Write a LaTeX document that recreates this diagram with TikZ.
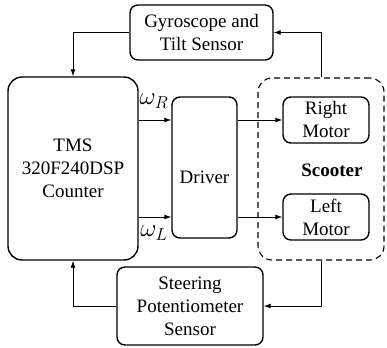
\documentclass[tikz,border=0pt]{standalone}
\usepackage{fontspec}
\setmainfont{LiberationSerif}[Extension=.ttf, UprightFont=*-Regular, BoldFont=*-Bold,
  ItalicFont=*-Italic, BoldItalicFont=*-BoldItalic]
\usetikzlibrary{arrows.meta}

\begin{document}
\begin{tikzpicture}[x=1pt, y=-1pt, >={Latex[length=7pt,width=5pt]}, line join=round,
  block/.style={draw, line width=1.4pt, rounded corners=8pt, align=center,
    font=\fontsize{19}{23}\selectfont},
  conn/.style={->, line width=0.9pt},
  signal/.style={font=\fontsize{25}{25}\selectfont}]

% ----------------------------
% FRAME
% ----------------------------
\useasboundingbox (0,0) rectangle (387,347);

% ----------------------------
% BLOCKS
% ----------------------------
\node[block, minimum width=143pt, minimum height=55pt] (gyro) at (201.5,32.5)
  {Gyroscope and\\Tilt Sensor};
\node[block, rounded corners=14pt, minimum width=130pt, minimum height=183pt] (tms) at (73,168.5)
  {TMS\\320F240DSP\\Counter};
\node[block, minimum width=65pt, minimum height=141pt, text height=32pt, text depth=0pt] (driver) at (204.5,167.5)
  {Driver};

% scooter group
\node[draw, dashed, line width=1.1pt, dash pattern=on 6pt off 4pt, rounded corners=14pt,
  minimum width=126pt, minimum height=182pt] (scooter) at (321,169) {};
\node[font=\fontsize{19}{23}\selectfont\bfseries] (scootername) at (332,170) {Scooter};
\node[block, minimum width=86pt, minimum height=46pt] (rmotor) at (326,120)
  {Right\\Motor};
\node[block, minimum width=86pt, minimum height=46pt] (lmotor) at (326,217)
  {Left\\Motor};

\node[block, minimum width=146pt, minimum height=78pt] (steer) at (190,306)
  {Steering\\Potentiometer\\Sensor};

% ----------------------------
% SIGNALS
% ----------------------------
\draw[conn] (tms.east |- rmotor) -- (driver.west |- rmotor);
\draw[conn] (tms.east |- lmotor) -- (driver.west |- lmotor);
\node[signal] (wr) at (154,101) {$\omega_R$};
\node[signal] (wl) at (154,233) {$\omega_L$};

\draw[conn] (driver.east |- rmotor) -- (rmotor.west);
\draw[conn] (driver.east |- lmotor) -- (lmotor.west);

% ----------------------------
% FEEDBACK LOOPS
% ----------------------------
\draw[conn] (gyro.west) -| (tms.north);
\draw[conn] (scooter.north) |- (gyro.east);
\draw[conn] (scooter.south) |- (steer.east);
\draw[conn] (steer.west) -| (tms.south);

\end{tikzpicture}
\end{document}
